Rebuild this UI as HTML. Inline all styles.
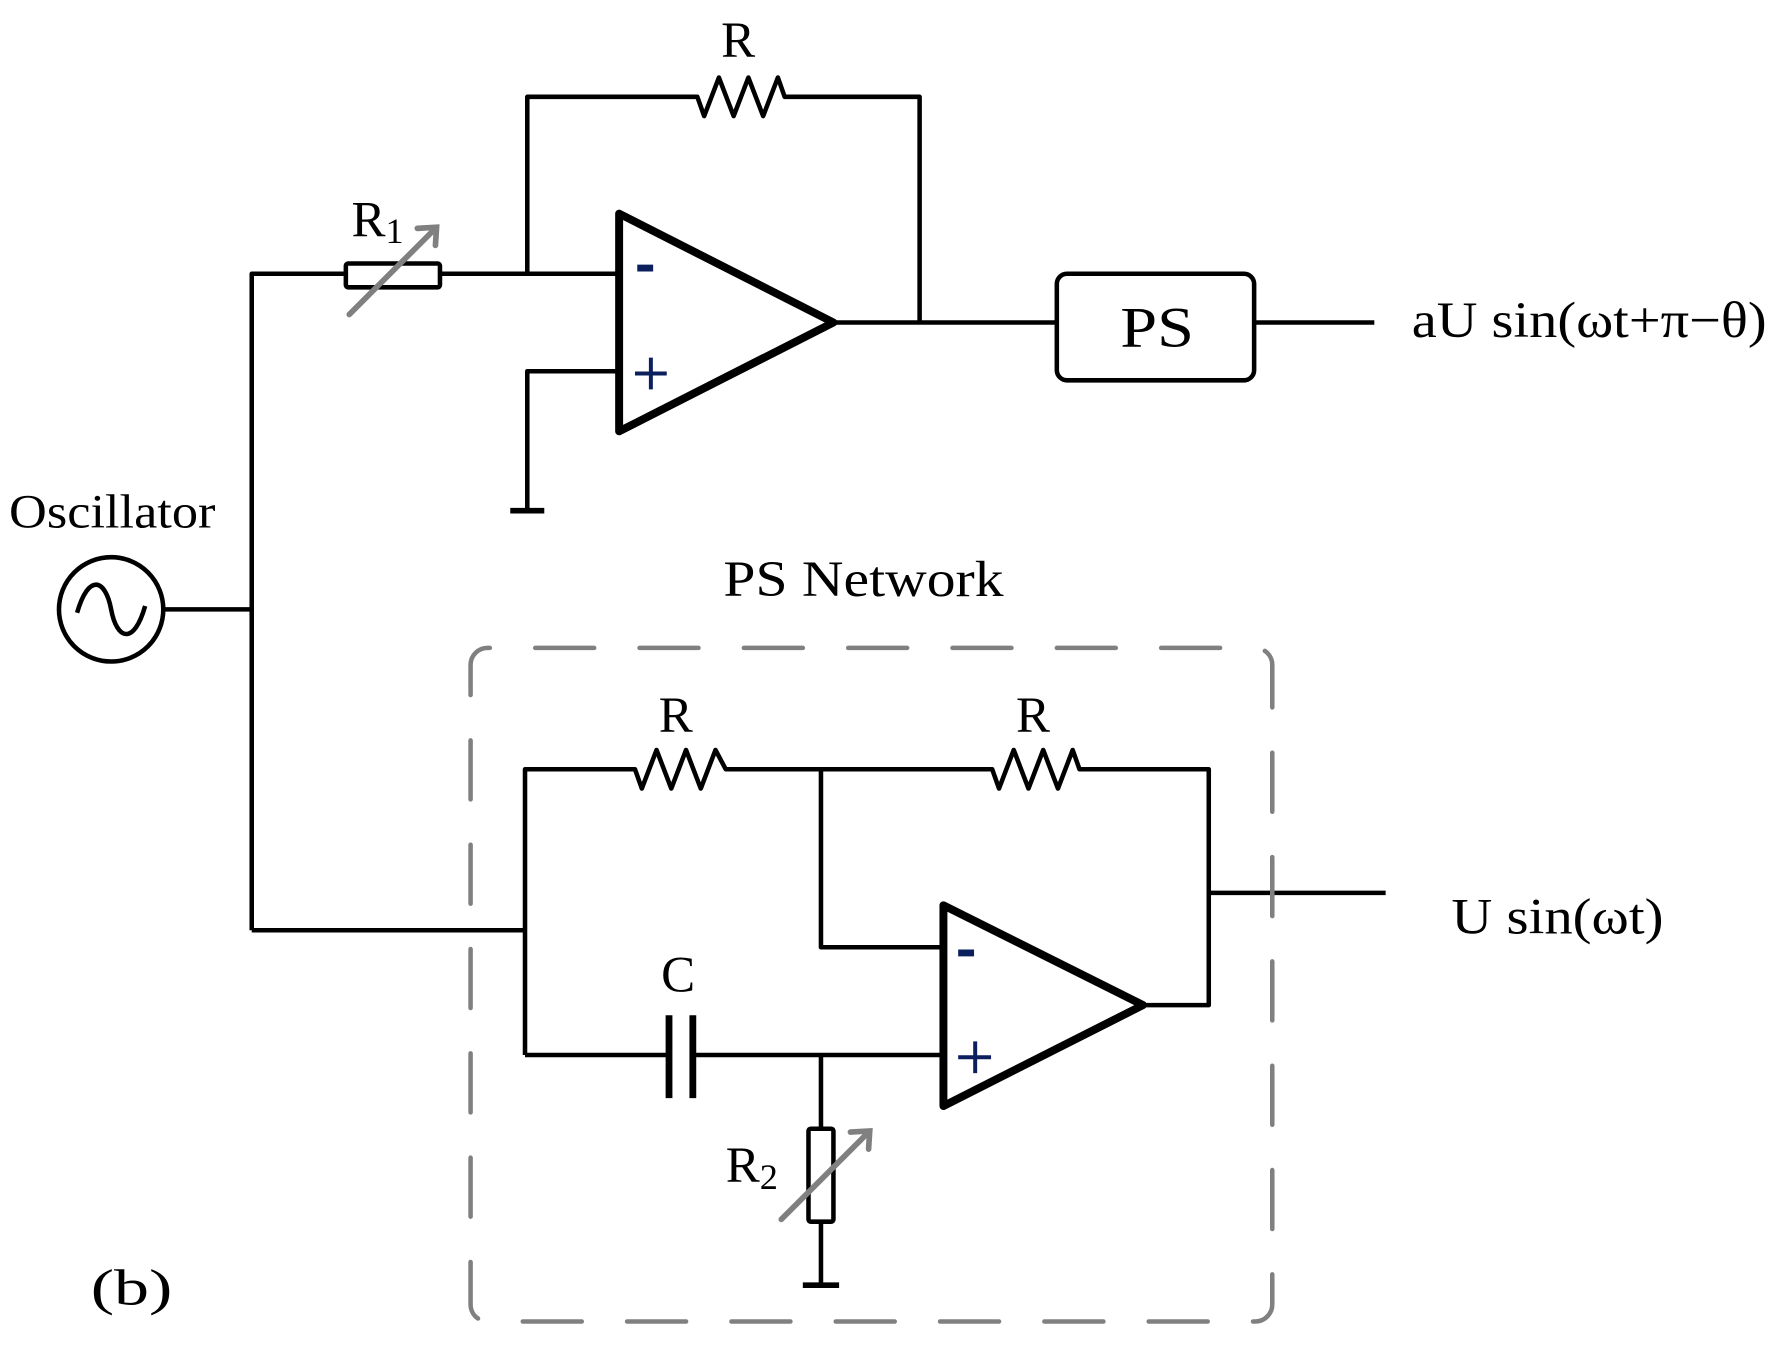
<!DOCTYPE html>
<html><head><meta charset="utf-8"><style>html,body{margin:0;padding:0;background:#fff}svg{display:block}text{font-family:"Liberation Serif",serif;fill:#000}</style></head>
<body>
<svg width="1778" height="1348" viewBox="0 0 1568 1188" xmlns="http://www.w3.org/2000/svg">
<g fill="none" stroke="#000" stroke-width="4" stroke-linejoin="round">
<polyline points="222,820 222,241 305,241"/>
<rect x="305" y="232" width="83" height="21" rx="2"/>
<line x1="388" y1="241" x2="546" y2="241"/>
<polyline points="465,241 465,85 615,85 621,102 634,68 647,102 660,68 673,102 686,68 692,85 811,85 811,284"/>
<polygon points="546,188 546,380 735,284" stroke-width="7"/>
<line x1="735" y1="284" x2="932" y2="284"/>
<rect x="932" y="241" width="174" height="94" rx="9"/>
<line x1="1106" y1="284" x2="1212" y2="284"/>
<polyline points="546,327 465,327 465,450"/>
<line x1="450" y1="450" x2="480" y2="450" stroke-width="5"/>
<circle cx="98" cy="537" r="46"/>
<path d="M68,540 C78,505 93,510 98,537 C103,564 118,569 128,534"/>
<line x1="144" y1="537" x2="222" y2="537"/>
<polyline points="222,820 463,820"/>
<polyline points="463,930 463,678 560,678 566,695 579,661 592,695 605,661 618,695 631,661 640,678 875,678 881,695 894,661 907,695 920,661 933,695 946,661 952,678 1066,678 1066,886 1008,886"/>
<polyline points="724,678 724,835 832,835"/>
<polygon points="832,798 832,975 1008,886" stroke-width="7"/>
<line x1="1066" y1="787" x2="1222" y2="787"/>
<line x1="463" y1="930" x2="588" y2="930"/>
<line x1="590" y1="895" x2="590" y2="968" stroke-width="6"/>
<line x1="611" y1="895" x2="611" y2="968" stroke-width="6"/>
<line x1="612" y1="930" x2="832" y2="930"/>
<line x1="724" y1="930" x2="724" y2="995"/>
<rect x="713" y="995" width="22" height="82" rx="2"/>
<line x1="724" y1="1077" x2="724" y2="1133"/>
<line x1="708" y1="1133" x2="740" y2="1133" stroke-width="5"/>
</g>
<g stroke="#808080" stroke-width="5" fill="none" stroke-linecap="round">
<line x1="308" y1="277" x2="384" y2="201"/><polyline points="368,201 385,200 384,216"/>
<line x1="689" y1="1075" x2="766" y2="998"/><polyline points="750,998 767,997 766,1013"/>
<rect x="415" y="571" width="707" height="594" rx="15" stroke-width="4" stroke-dasharray="52 40" stroke-dashoffset="-42"/>
</g>
<g stroke="#0a1f5c" stroke-width="3.5">
<line x1="562" y1="236" x2="576" y2="236" stroke-width="6"/>
<line x1="560" y1="329" x2="588" y2="329"/><line x1="574" y1="315" x2="574" y2="343"/>
<line x1="845" y1="840" x2="859" y2="840" stroke-width="6"/>
<line x1="845" y1="932" x2="874" y2="932"/><line x1="860" y1="918" x2="860" y2="946"/>
</g>
<g font-size="45">
<text x="636" y="50">R</text>
<text x="310" y="208">R<tspan font-size="32" dy="6">1</tspan></text>
<text x="988" y="305" font-size="50" textLength="65" lengthAdjust="spacingAndGlyphs">PS</text>
<text x="1245" y="297" textLength="313" lengthAdjust="spacingAndGlyphs">aU sin(ωt+π−θ)</text>
<text x="8" y="465" font-size="42" textLength="182" lengthAdjust="spacingAndGlyphs">Oscillator</text>
<text x="638" y="525" textLength="247" lengthAdjust="spacingAndGlyphs">PS Network</text>
<text x="581" y="645">R</text>
<text x="896" y="645">R</text>
<text x="583" y="874">C</text>
<text x="1280" y="823" textLength="187" lengthAdjust="spacingAndGlyphs">U sin(ωt)</text>
<text x="640" y="1042">R<tspan font-size="32" dy="6">2</tspan></text>
<text x="80" y="1150" textLength="72" lengthAdjust="spacingAndGlyphs">(b)</text>
</g>
</svg>
</body></html>
